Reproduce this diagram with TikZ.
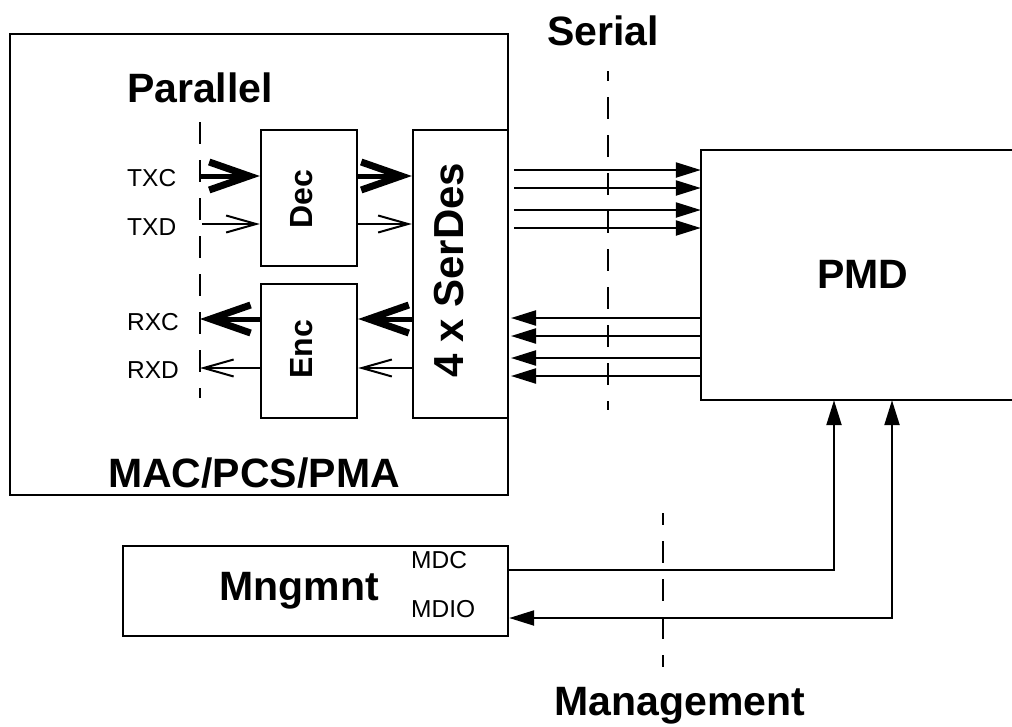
\documentclass[tikz,border=0pt]{standalone}
\usepackage{fontspec}
\setmainfont{Liberation Sans}
\usetikzlibrary{arrows.meta}
\begin{document}
\begin{tikzpicture}[x=1pt,y=-1pt,
  box/.style={draw,line width=2.4pt,inner sep=0pt},
  biglabel/.style={font=\bfseries\fontsize{41}{41}\selectfont,inner sep=0pt},
  rotlabel/.style={font=\bfseries\fontsize{32}{32}\selectfont,inner sep=0pt,rotate=90,anchor=base},
  smalllabel/.style={font=\fontsize{24.5}{24.5}\selectfont,inner sep=0pt,anchor=base west},
  divider/.style={line width=2pt,dash pattern=on 22pt off 16pt},
  thickarr/.style={line width=5pt,-{Straight Barb[length=40pt,width=28pt,line width=7pt]}},
  thinarr/.style={line width=1.6pt,-{Straight Barb[length=30pt,width=17pt,line width=2pt]}},
  serarr/.style={line width=2.2pt,-{Triangle[length=25pt,width=15pt]}},
  mgarr/.style={line width=2.2pt,-{Triangle[length=25pt,width=15pt]}},
  mgbiarr/.style={line width=2.2pt,{Triangle[length=25pt,width=15pt]}-{Triangle[length=25pt,width=15pt]}}]
\fill[white] (0,0) rectangle (1012,726);
\clip (0,0) rectangle (1012,726);
% boxes
\node[box,minimum width=498pt,minimum height=461pt] (mac) at (259,264.5) {};
\node[box,minimum width=96pt,minimum height=136pt] (dec) at (309,198) {};
\node[box,minimum width=96pt,minimum height=134pt] (enc) at (309,351) {};
\node[box,minimum width=95pt,minimum height=288pt] (serdes) at (460.5,274) {};
\node[inner sep=0pt,minimum width=329pt,minimum height=250pt] (pmd) at (865.5,275) {};
\draw[line width=2.4pt] (pmd.north east) -- (pmd.north west) -- (pmd.south west) -- (pmd.south east);
\node[box,minimum width=385pt,minimum height=90pt] (mng) at (315.5,591) {};
% labels
\node[biglabel,anchor=base] (serial) at (603,45) {Serial};
\node[biglabel,anchor=base] (parallel) at (200,102) {Parallel};
\node[biglabel,anchor=base] (maclabel) at (254,487) {MAC/PCS/PMA};
\node[biglabel,anchor=base] (mnglabel) at (299,600) {Mngmnt};
\node[biglabel,anchor=base] (management) at (680,715) {Management};
\node[biglabel,anchor=base] (pmdlabel) at (863,288) {PMD};
\node[rotlabel] (declabel) at (312,199) {Dec};
\node[rotlabel] (enclabel) at (312,349) {Enc};
\node[rotlabel,font=\bfseries\fontsize{42}{42}\selectfont] (serdeslabel) at (463,270) {4 x SerDes};
\node[smalllabel] (txc) at (127,186) {TXC};
\node[smalllabel] (txd) at (127,235) {TXD};
\node[smalllabel] (rxc) at (127,330) {RXC};
\node[smalllabel] (rxd) at (127,378) {RXD};
\node[smalllabel] (mdclabel) at (411,568) {MDC};
\node[smalllabel] (mdiolabel) at (411,617) {MDIO};
% dividers
\coordinate (pa) at (200,122); \coordinate (pb) at (200,398);
\coordinate (sa) at (608,71); \coordinate (sb) at (608,410);
\coordinate (ma) at (663,513); \coordinate (mb) at (663,667);
\draw[divider] (pa) -- (pb);
\draw[divider,dash phase=12pt] (sa) -- (sb);
\draw[divider,dash phase=10pt] (ma) -- (mb);
% parallel side
\coordinate (ytxc) at (200,176);
\coordinate (ytxd) at (202,224);
\coordinate (yrxc) at (200,319);
\coordinate (yrxd) at (200,368);
\draw[thickarr] (ytxc) -- (ytxc -| dec.west);
\draw[thickarr] (ytxc -| dec.east) -- (ytxc -| serdes.west);
\draw[thinarr] (ytxd) -- (ytxd -| dec.west);
\draw[thinarr] (ytxd -| dec.east) -- (ytxd -| serdes.west);
\draw[thickarr] (yrxc -| enc.west) -- (yrxc);
\draw[thickarr] (yrxc -| serdes.west) -- (yrxc -| enc.east);
\draw[thinarr] (yrxd -| enc.west) -- (yrxd);
\draw[thinarr] (yrxd -| serdes.west) -- (yrxd -| enc.east);
% serial side
\foreach \y [count=\i] in {170,188,210,228}{
  \coordinate (t\i) at (514,\y);
  \draw[serarr] (t\i) -- (t\i -| pmd.west);
}
\foreach \y [count=\i] in {318,336,358,376}{
  \coordinate (r\i) at (511,\y);
  \draw[serarr] (r\i -| pmd.west) -- (r\i);
}
% management
\coordinate (mdc) at (834,570);
\coordinate (mdio) at (892,618);
\draw[mgarr] (mdc -| mng.east) -- (mdc) -- (mdc |- pmd.south);
\draw[mgbiarr] (mdio |- pmd.south) -- (mdio) -- (mdio -| mng.east);
\end{tikzpicture}
\end{document}
